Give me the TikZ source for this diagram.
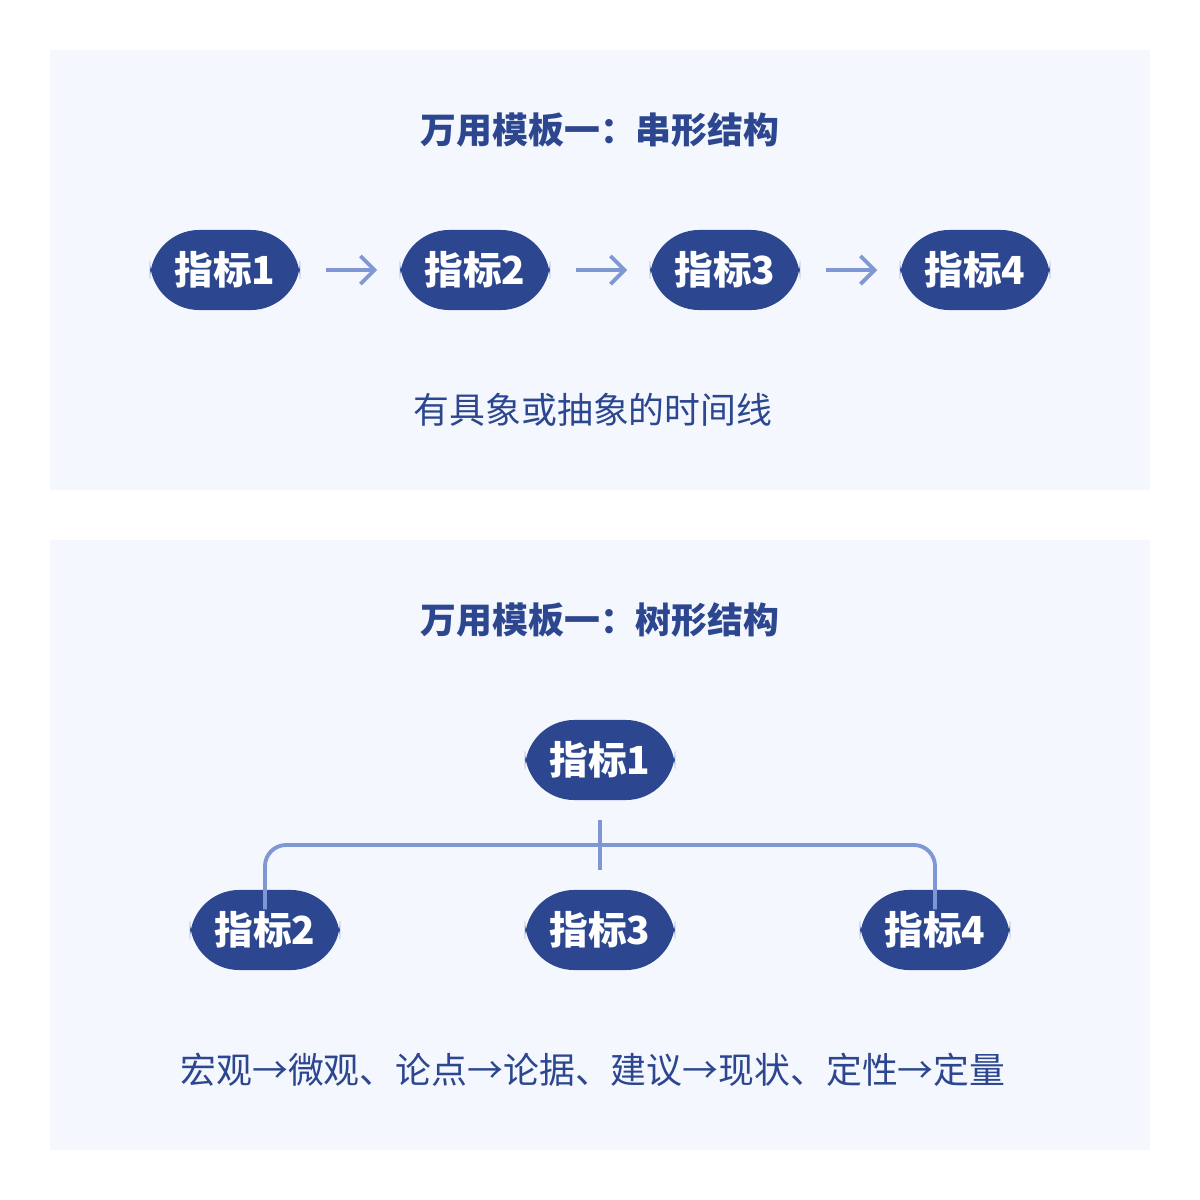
\documentclass[tikz,border=0pt]{standalone}
\usepackage{fontspec}
\setmainfont{Noto Sans CJK SC}
\usetikzlibrary{positioning,arrows.meta}
\definecolor{panelbg}{HTML}{F4F7FD}
\definecolor{navy}{HTML}{2C478F}
\definecolor{linkblue}{HTML}{7F97D2}
\begin{document}
\begin{tikzpicture}
[
  x=0.01cm, y=-0.01cm,
  panel/.style={fill=panelbg,draw=none},
  idx/.style={fill=navy,text=white,rounded corners=14,minimum width=1.5cm,
    minimum height=0.8cm,inner sep=0pt,font=\fontsize{11}{13}\selectfont\bfseries},
  title/.style={text=navy,font=\fontsize{10.2}{12}\selectfont\bfseries},
  note/.style={text=navy,font=\fontsize{10.2}{12}\selectfont},
  link/.style={draw=linkblue,line width=1.1pt,-{Straight Barb[length=4pt,width=8pt]}},
  tree/.style={draw=linkblue,line width=1.1pt,rounded corners=6}
]
\useasboundingbox[fill=white] (0,0) rectangle (1200,1200);

% chain
\fill[panel] (50,50) rectangle (1150,490);
\node[title] (t1) at (600,130) {万用模板一：串形结构};
\foreach \i in {1,...,4}
  \node[idx] (c\i) at (225+250*\i-250,270) {指标\i};
\foreach \i/\j in {1/2,2/3,3/4}
  \draw[link] ([xshift=0.25cm]c\i.east) -- ([xshift=-0.22cm]c\j.west);
\node[note] (n1) at (593,410) {有具象或抽象的时间线};

% tree
\fill[panel] (50,540) rectangle (1150,1150);
\node[title] (t2) at (600,620) {万用模板一：树形结构};
\node[idx] (r1) at (600,760) {指标1};
\node[idx] (r2) at (265,930) {指标2};
\node[idx] (r3) at (600,930) {指标3};
\node[idx] (r4) at (935,930) {指标4};
\coordinate (top) at (600,820);
\coordinate (mid) at (600,870);
\draw[tree] ([yshift=-0.2cm]r2.north) |- (600,845) -| ([yshift=-0.2cm]r4.north);
\draw[tree] (top) -- (mid);
\node[note] (n2) at (593,1070) {宏观→微观、论点→论据、建议→现状、定性→定量};
\end{tikzpicture}
\end{document}
